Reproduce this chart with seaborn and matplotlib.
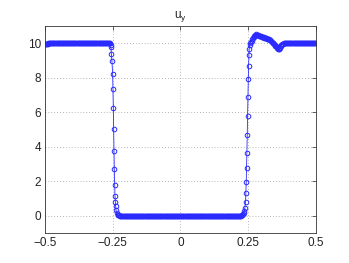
import numpy as np
import pandas as pd
import matplotlib
matplotlib.use("Agg")
import matplotlib.pyplot as plt
import seaborn as sns

# ---- data ----
left_plateau_x = np.linspace(-0.5, -0.2625, 96)
left_plateau_y = [9.96, 9.96, 9.97, 9.97, 9.97, 9.98, 9.98, 9.98, 9.98, 9.99, 9.99, 9.99,
                  10.0, 10.0, 10.0, 10.0, 10.0, 10.0, 10.0, 10.0, 10.0, 10.0, 10.0, 10.0,
                  10.0, 10.0, 10.0, 10.0, 10.0, 10.0, 10.0, 10.0, 10.0, 10.0, 10.0, 10.0,
                  10.0, 10.0, 10.0, 10.0, 10.0, 10.0, 10.0, 10.0, 10.0, 10.0, 10.0, 10.0,
                  10.0, 10.0, 10.0, 10.0, 10.0, 10.0, 10.0, 10.0, 10.0, 10.0, 10.0, 10.0,
                  10.0, 10.0, 10.0, 10.0, 10.0, 10.0, 10.0, 10.0, 10.0, 10.0, 10.0, 10.0,
                  10.0, 10.0, 10.0, 10.0, 10.0, 10.0, 10.0, 10.0, 10.0, 10.0, 10.0, 10.0,
                  10.0, 10.0, 10.0, 10.0, 10.0, 10.0, 10.0, 10.0, 10.0, 10.0, 10.0, 10.0]

left_drop_x = [-0.2601, -0.2580, -0.2565, -0.2552, -0.2528, -0.2503, -0.2491, -0.2478, -0.2466,
               -0.2454, -0.2442, -0.2429, -0.2417, -0.2405, -0.2392, -0.2380, -0.2355, -0.2319]
left_drop_y = [9.98, 9.9, 9.75, 9.36, 8.93, 8.2, 7.33, 6.22, 4.99,
               3.76, 2.67, 1.79, 1.15, 0.8, 0.55, 0.31, 0.12, 0.03]

bottom_x = np.linspace(-0.229, 0.229, 184)
bottom_y = [0.02, 0.01,
            0.0, 0.0, 0.0, 0.0, 0.0, 0.0, 0.0, 0.0, 0.0, 0.0, 0.0, 0.0, 0.0, 0.0, 0.0, 0.0, 0.0, 0.0, 0.0, 0.0,
            0.0, 0.0, 0.0, 0.0, 0.0, 0.0, 0.0, 0.0, 0.0, 0.0, 0.0, 0.0, 0.0, 0.0, 0.0, 0.0, 0.0, 0.0, 0.0, 0.0,
            0.0, 0.0, 0.0, 0.0, 0.0, 0.0, 0.0, 0.0, 0.0, 0.0, 0.0, 0.0, 0.0, 0.0, 0.0, 0.0, 0.0, 0.0, 0.0, 0.0,
            0.0, 0.0, 0.0, 0.0, 0.0, 0.0, 0.0, 0.0, 0.0, 0.0, 0.0, 0.0, 0.0, 0.0, 0.0, 0.0, 0.0, 0.0, 0.0, 0.0,
            0.0, 0.0, 0.0, 0.0, 0.0, 0.0, 0.0, 0.0, 0.0, 0.0, 0.0, 0.0, 0.0, 0.0, 0.0, 0.0, 0.0, 0.0, 0.0, 0.0,
            0.0, 0.0, 0.0, 0.0, 0.0, 0.0, 0.0, 0.0, 0.0, 0.0, 0.0, 0.0, 0.0, 0.0, 0.0, 0.0, 0.0, 0.0, 0.0, 0.0,
            0.0, 0.0, 0.0, 0.0, 0.0, 0.0, 0.0, 0.0, 0.0, 0.0, 0.0, 0.0, 0.0, 0.0, 0.0, 0.0, 0.0, 0.0, 0.0, 0.0,
            0.0, 0.0, 0.0, 0.0, 0.0, 0.0, 0.0, 0.0, 0.0, 0.0, 0.0, 0.0, 0.0, 0.0, 0.0, 0.0, 0.0, 0.0, 0.0, 0.0,
            0.0, 0.0, 0.0, 0.0, 0.0, 0.0, 0.0, 0.0, 0.0, 0.0, 0.0, 0.0, 0.0, 0.0, 0.0, 0.0, 0.0, 0.0, 0.0, 0.0,
            0.01, 0.02]

right_rise_x = [0.2319, 0.2340, 0.2355, 0.2380, 0.2405, 0.2417, 0.2429, 0.2442, 0.2454,
                0.2466, 0.2478, 0.2491, 0.2503, 0.2515, 0.2528, 0.2540, 0.2552, 0.2577]
right_rise_y = [0.06, 0.15, 0.25, 0.45, 0.8, 1.29, 1.93, 2.73, 3.65,
                4.66, 5.77, 6.88, 7.9, 8.67, 9.28, 9.67, 9.9, 10.0]

bump_x = np.linspace(0.26, 0.39, 53)
bump_y = [10.06, 10.13, 10.22, 10.3, 10.37, 10.42, 10.46, 10.49, 10.5,
          10.49, 10.47, 10.45, 10.43, 10.42, 10.4, 10.39, 10.37, 10.36, 10.35,
          10.33, 10.32, 10.3, 10.29, 10.27, 10.26, 10.24, 10.23, 10.21, 10.19,
          10.16, 10.12, 10.08, 10.03, 9.99, 9.94, 9.9, 9.85, 9.8, 9.76,
          9.72, 9.68, 9.66, 9.66, 9.72, 9.8, 9.87, 9.93, 9.95, 9.97,
          9.98, 9.99, 10.0, 10.0]

right_plateau_x = np.linspace(0.3925, 0.5, 44)
right_plateau_y = [10.0, 10.0, 10.0, 10.0, 10.0, 10.0, 10.0, 10.0, 10.0, 10.0, 10.0,
                   10.0, 10.0, 10.0, 10.0, 10.0, 10.0, 10.0, 10.0, 10.0, 10.0, 10.0,
                   10.0, 10.0, 10.0, 10.0, 10.0, 10.0, 10.0, 10.0, 10.0, 10.0, 10.0,
                   10.0, 10.0, 10.0, 10.0, 10.0, 10.0, 10.0, 10.0, 10.0, 10.0, 10.0]

xticks = [-0.5, -0.25, 0, 0.25, 0.5]
xtick_labels = ["\u22120.5", "\u22120.25", "0", "0.25", "0.5"]
yticks = [0, 2, 4, 6, 8, 10]
ytick_labels = ["0", "2", "4", "6", "8", "10"]
title = "u$_\\mathrm{y}$"

df = pd.DataFrame({
    "x": np.concatenate([left_plateau_x, left_drop_x, bottom_x, right_rise_x, bump_x, right_plateau_x]),
    "y": np.concatenate([left_plateau_y, left_drop_y, bottom_y, right_rise_y, bump_y, right_plateau_y]),
})

sns.set_style("white")
plt.rcParams["font.family"] = ["Liberation Sans", "DejaVu Sans"]
plt.rcParams["mathtext.fontset"] = "custom"
plt.rcParams["mathtext.rm"] = "Liberation Sans"

fig = plt.figure(figsize=(3.49, 2.63), dpi=100)
ax = fig.add_axes([0.129, 0.115, 0.776, 0.787])

color = "#2a2aff"
sns.lineplot(data=df, x="x", y="y", ax=ax, estimator=None, sort=False,
             color=color, lw=0.6, marker="o", markersize=3.3,
             markerfacecolor="none", markeredgecolor=color, markeredgewidth=0.7)

ax.set_xlim(-0.5, 0.5)
ax.set_ylim(-1, 11)
ax.set_xticks(xticks)
ax.set_xticklabels(xtick_labels)
ax.set_yticks(yticks)
ax.set_yticklabels(ytick_labels)
ax.set_xlabel("")
ax.set_ylabel("")
ax.set_title(title, fontsize=8.5, pad=6)
ax.grid(True, linestyle=(0, (1, 2.5)), color="#a0a0a0", lw=0.6)
ax.tick_params(direction="in", top=True, right=True, length=3, width=0.5,
               labelsize=8.5, pad=3, colors="#222222")
for s in ax.spines.values():
    s.set_visible(True)
    s.set_color("#333333")
    s.set_linewidth(0.6)

fig.savefig("out.png", dpi=100)
